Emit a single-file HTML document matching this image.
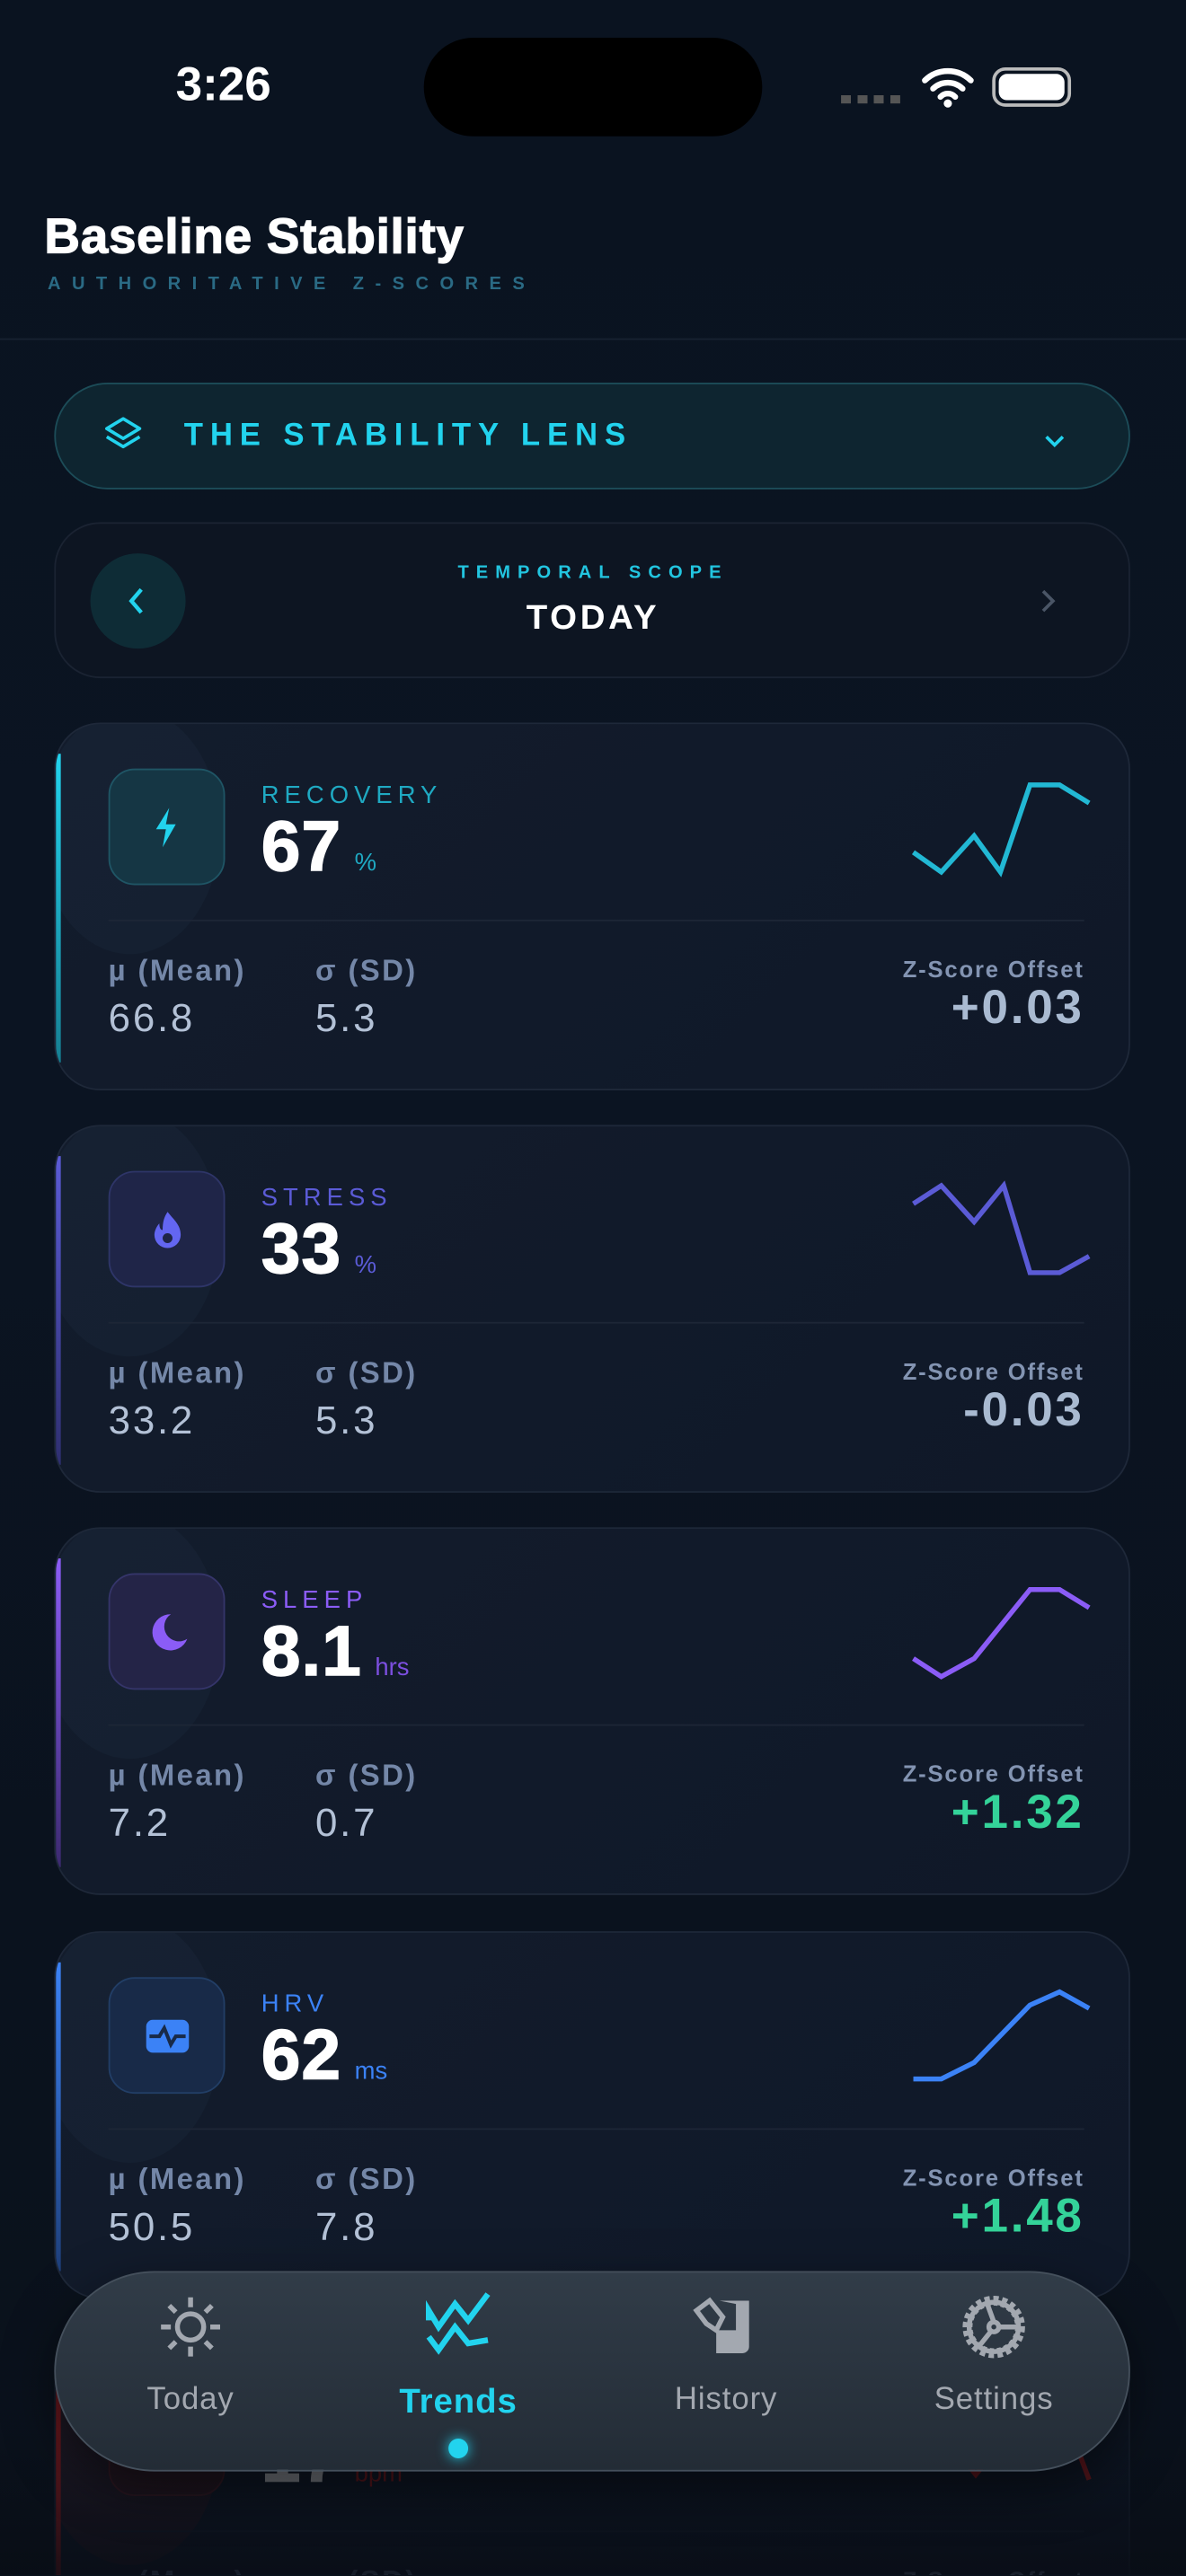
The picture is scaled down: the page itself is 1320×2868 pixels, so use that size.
<!DOCTYPE html>
<html><head><meta charset="utf-8"><style>
*{margin:0;padding:0;box-sizing:border-box}
html,body{width:1320px;height:2868px;overflow:hidden;background:#0a111c}
#s{position:absolute;left:0;top:0;width:722px;height:1568px;transform:scale(1.8283);transform-origin:0 0;font-family:"Liberation Sans",sans-serif;background:linear-gradient(180deg,#0a1320 0%,#0b1422 40%,#0a111b 100%);overflow:hidden}
.a{position:absolute}
.card{position:absolute;left:33px;width:655px;height:224px;border-radius:28px;background:linear-gradient(135deg,#131c2c,#0f1828);border:1.5px solid #1e2839;overflow:hidden}
.card .glow{position:absolute;left:-10px;top:-10px;width:110px;height:150px;border-radius:50%;background:rgba(40,70,90,.15)}
.card .bar{position:absolute;left:0;top:18px;width:3px;height:188px}
.ib{position:absolute;left:32px;top:27px;width:71px;height:71px;border-radius:16px}
.lbl{position:absolute;left:125px;top:35px;font-size:15px;letter-spacing:3.3px;font-weight:400}
.val{position:absolute;left:125px;top:51px;font-size:43px;font-weight:700;color:#fff;letter-spacing:0.5px;-webkit-text-stroke:.8px #fff}
.val span{font-size:15px;font-weight:400;margin-left:8px;letter-spacing:0;-webkit-text-stroke:0}
.div{position:absolute;left:32px;right:27px;top:119px;height:1px;background:#1d2636}
.ml{position:absolute;top:140px;font-size:18px;font-weight:700;color:#7487a8;letter-spacing:1.3px}
.mv{position:absolute;top:166px;font-size:24px;color:#b3c1d6;letter-spacing:1.5px}
.zl{position:absolute;right:27px;top:141px;font-size:14px;font-weight:700;color:#8394b2;letter-spacing:1px}
.zv{position:absolute;right:27px;top:157px;font-size:29px;font-weight:700;letter-spacing:1.5px}
.sp{position:absolute;left:0;top:0}
.nl{position:absolute;top:1451px;font-size:19px;color:#a3a8b0;width:120px;text-align:center;letter-spacing:.5px}
</style></head><body><div id="s">
<div class="a" style="left:107px;top:36px;font-size:29px;font-weight:600;color:#fff">3:26</div>
<div class="a" style="left:258px;top:23px;width:206px;height:60px;border-radius:30px;background:#000"></div>
<div class="a" style="left:512px;top:58px;width:36px;height:5px;background:repeating-linear-gradient(90deg,#555 0 6px,transparent 6px 10px)"></div>
<svg class="a" style="left:560px;top:40px" width="34" height="26" viewBox="0 0 34 26"><path d="M3 9a20 20 0 0 1 28 0M8 14a13 13 0 0 1 18 0M12.5 19a6 6 0 0 1 9 0" stroke="#fff" stroke-width="3.5" fill="none" stroke-linecap="round"/><circle cx="17" cy="23" r="2.5" fill="#fff"/></svg>
<div class="a" style="left:604px;top:41px;width:48px;height:24px;border:2px solid #bbb;border-radius:8px"><div style="margin:2px;height:16px;border-radius:5px;background:#fff"></div></div>
<div class="a" style="left:27px;top:128px;font-size:30px;font-weight:700;color:#fff;letter-spacing:0.4px;-webkit-text-stroke:.7px #fff">Baseline Stability</div>
<div class="a" style="left:29px;top:167px;font-size:11px;font-weight:700;color:#2a6a84;letter-spacing:6.8px">AUTHORITATIVE Z-SCORES</div>
<div class="a" style="left:0;top:206px;width:722px;height:1px;background:#172231"></div>
<div class="a" style="left:33px;top:233px;width:655px;height:65px;border-radius:33px;background:#0e2530;border:1.5px solid #1c4c58"></div>
<svg class="a" style="left:62px;top:252px" width="26" height="26" viewBox="0 0 26 26" fill="none" stroke="#22d3ee" stroke-width="2" stroke-linejoin="round"><path d="M13 3 23 9 13 15 3 9Z"/><path d="M3 14 13 20 23 14"/></svg>
<div class="a" style="left:112px;top:255px;font-size:19px;font-weight:700;color:#22d3ee;letter-spacing:4.3px">THE STABILITY LENS</div>
<svg class="a" style="left:635px;top:264px" width="14" height="10"><path d="M2 2 7 7 12 2" stroke="#22d3ee" stroke-width="2" fill="none"/></svg>
<div class="a" style="left:33px;top:318px;width:655px;height:95px;border-radius:28px;background:#0d1522;border:1.5px solid #1a2332"></div>
<div class="a" style="left:55px;top:337px;width:58px;height:58px;border-radius:50%;background:#0e2c36"></div>
<svg class="a" style="left:77px;top:357px" width="12" height="18"><path d="M9 2 3 9 9 16" stroke="#22d3ee" stroke-width="2.4" fill="none"/></svg>
<svg class="a" style="left:632px;top:358px" width="12" height="16"><path d="M3 2 9 8 3 14" stroke="#4a5566" stroke-width="2" fill="none"/></svg>
<div class="a" style="left:261px;top:343px;width:200px;text-align:center;font-size:11px;font-weight:700;color:#22c5e0;letter-spacing:4.4px">TEMPORAL SCOPE</div>
<div class="a" style="left:261px;top:365px;width:200px;text-align:center;font-size:21px;font-weight:600;color:#fff;letter-spacing:2px">TODAY</div>

<div class="card" style="top:440px"><div class="glow"></div><div class="bar" style="background:linear-gradient(#22d3ee,#167f93)"></div>
<div class="ib" style="background:#153644;border:1.5px solid #1f5565"></div>
<svg class="a" style="left:58px;top:50px" width="18" height="26"><path d="M11 1 3 14h6l-2 11 8-14h-6z" fill="#22d3ee"/></svg>
<div class="lbl" style="color:#1fa9c2">RECOVERY</div><div class="val">67<span style="color:#1fa9c2">%</span></div><div class="div"></div>
<div class="ml" style="left:32px">µ (Mean)</div><div class="ml" style="left:158px">σ (SD)</div>
<div class="mv" style="left:32px">66.8</div><div class="mv" style="left:158px">5.3</div>
<div class="zl">Z-Score Offset</div><div class="zv" style="color:#a9bad1">+0.03</div>
<svg class="sp" width="655" height="224"><polyline points="522,78 539,90 559,68 575,90 593,37 611,37 629,48" fill="none" stroke="#22b8d4" stroke-width="3"/></svg></div>

<div class="card" style="top:685px"><div class="glow"></div><div class="bar" style="background:linear-gradient(#5b5bd6,#2e2f70)"></div>
<div class="ib" style="background:#1f2548;border:1.5px solid #2e3568"></div>
<svg class="a" style="left:56px;top:50px" width="24" height="26"><path d="M12 2c4 5 8 8 8 14a8 8 0 0 1-16 0c0-3 2-6 3-7 0 3 1 4 2 4 0-5 1-8 3-11z" fill="#6366f1"/><circle cx="12" cy="18" r="3" fill="#1f2548"/></svg>
<div class="lbl" style="color:#5b5bd6">STRESS</div><div class="val">33<span style="color:#5b5bd6">%</span></div><div class="div"></div>
<div class="ml" style="left:32px">µ (Mean)</div><div class="ml" style="left:158px">σ (SD)</div>
<div class="mv" style="left:32px">33.2</div><div class="mv" style="left:158px">5.3</div>
<div class="zl">Z-Score Offset</div><div class="zv" style="color:#a9bad1">-0.03</div>
<svg class="sp" width="655" height="224"><polyline points="522,47 539,36 559,58 577,36 593,89 611,89 629,79" fill="none" stroke="#5b5bd6" stroke-width="3"/></svg></div>

<div class="card" style="top:930px"><div class="glow"></div><div class="bar" style="background:linear-gradient(#8b5cf6,#3c2a70)"></div>
<div class="ib" style="background:#242447;border:1.5px solid #35356a"></div>
<svg class="a" style="left:54px;top:49px" width="28" height="28"><path d="M16 3a11 11 0 1 0 10 15A9 9 0 0 1 16 3z" fill="#8b5cf6"/></svg>
<div class="lbl" style="color:#8b5cf6">SLEEP</div><div class="val">8.1<span style="color:#7c4fe0">hrs</span></div><div class="div"></div>
<div class="ml" style="left:32px">µ (Mean)</div><div class="ml" style="left:158px">σ (SD)</div>
<div class="mv" style="left:32px">7.2</div><div class="mv" style="left:158px">0.7</div>
<div class="zl">Z-Score Offset</div><div class="zv" style="color:#34d399">+1.32</div>
<svg class="sp" width="655" height="224"><polyline points="522,79 539,90 559,79 593,37 611,37 629,48" fill="none" stroke="#8b5cf6" stroke-width="3"/></svg></div>

<div class="card" style="top:1176px"><div class="glow"></div><div class="bar" style="background:linear-gradient(#3b82f6,#1e3f7a)"></div>
<div class="ib" style="background:#182a48;border:1.5px solid #223e66"></div>
<svg class="a" style="left:53px;top:51px" width="30" height="24"><rect x="2" y="2" width="26" height="20" rx="4" fill="#3b82f6"/><polyline points="4,12 10,12 13,7 17,17 20,12 26,12" fill="none" stroke="#182a48" stroke-width="2.2"/></svg>
<div class="lbl" style="color:#3b82f6">HRV</div><div class="val">62<span style="color:#3b82f6">ms</span></div><div class="div"></div>
<div class="ml" style="left:32px">µ (Mean)</div><div class="ml" style="left:158px">σ (SD)</div>
<div class="mv" style="left:32px">50.5</div><div class="mv" style="left:158px">7.8</div>
<div class="zl">Z-Score Offset</div><div class="zv" style="color:#34d399">+1.48</div>
<svg class="sp" width="655" height="224"><polyline points="522,89 539,89 559,79 593,44 611,36 629,46" fill="none" stroke="#3b82f6" stroke-width="3"/></svg></div>

<div class="card" style="top:1421px;opacity:.5"><div class="glow" style="background:rgba(120,30,30,.25)"></div><div class="bar" style="background:#b91c1c"></div>
<div class="ib" style="background:#3a1a22;border:1.5px solid #5a2028"></div>
<div class="lbl" style="color:#b91c1c">RHR</div><div class="val">17<span style="color:#b91c1c">bpm</span></div><div class="div"></div>
<div class="ml" style="left:32px">µ (Mean)</div><div class="ml" style="left:158px">σ (SD)</div>
<div class="zl">Z-Score Offset</div>
<svg class="sp" width="655" height="224"><polyline points="540,60 560,85 580,60 611,40 629,88" fill="none" stroke="#b91c1c" stroke-width="3"/></svg></div>
<div class="a" style="left:0;top:1480px;width:722px;height:88px;background:linear-gradient(rgba(8,12,20,0),rgba(8,12,20,.75))"></div>

<div class="a" style="left:33px;top:1383px;width:655px;height:122px;border-radius:61px;background:linear-gradient(180deg,#313c48,#232c36);border:1.5px solid #45505c;box-shadow:0 10px 30px rgba(0,0,0,.5)"></div>
<svg class="a" style="left:94px;top:1395px" width="44" height="44" viewBox="0 0 44 44" stroke="#a3a8b0" stroke-width="3" fill="none"><circle cx="22" cy="22" r="8"/><path d="M22 4v6M22 34v6M4 22h6M34 22h6M9 9l4 4M31 31l4 4M9 35l4-4M31 13l4-4"/></svg>
<svg class="a" style="left:257px;top:1395px" width="44" height="44" viewBox="0 0 44 44" stroke="#22d3ee" stroke-width="3.5" fill="none"><polyline points="4,18 4,12 10,22 20,8 28,18 40,2"/><polyline points="4,28 10,36 20,22 28,32 40,30"/></svg>
<svg class="a" style="left:420px;top:1397px" width="44" height="44" viewBox="0 0 44 44" fill="#a3a8b0"><path d="M18 4h18v28a4 4 0 0 1-4 4H16V22h12V6z"/><path d="M4 10 12 4 20 14 16 22 10 18z" fill="none" stroke="#a3a8b0" stroke-width="3"/></svg>
<svg class="a" style="left:583px;top:1394px" width="44" height="46" viewBox="0 0 44 46" stroke="#a3a8b0" stroke-width="3" fill="none"><circle cx="22" cy="23" r="16" stroke-dasharray="3 2" stroke-width="6"/><circle cx="22" cy="23" r="15"/><circle cx="22" cy="23" r="3"/><path d="M22 20 18 9M25 23h13M20 26l-8 10"/></svg>
<div class="nl" style="left:56px">Today</div>
<div class="nl" style="left:219px;color:#22d3ee;font-weight:700;font-size:21px;top:1451px">Trends</div>
<div class="nl" style="left:382px">History</div>
<div class="nl" style="left:545px">Settings</div>
<div class="a" style="left:273px;top:1485px;width:12px;height:12px;border-radius:50%;background:#22d3ee;box-shadow:0 0 8px #22d3ee"></div>
</div></body></html>
